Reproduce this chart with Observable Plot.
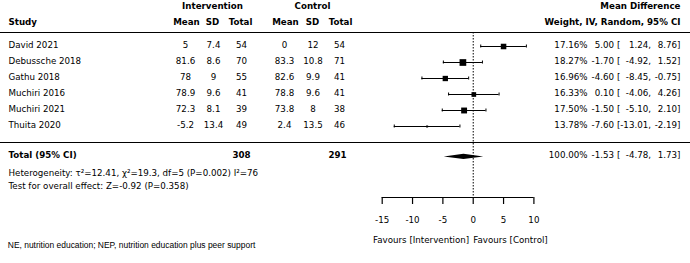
<!DOCTYPE html>
<html><head><meta charset="utf-8">
<script src="https://cdn.jsdelivr.net/npm/d3@7"></script>
<script src="https://cdn.jsdelivr.net/npm/@observablehq/plot@0.6"></script>
<style>body{margin:0;background:#fff}</style>
</head><body><div id="chart"></div>
<script>
// ---- data ----
const studies = ["David 2021","Debussche 2018","Gathu 2018","Muchiri 2016","Muchiri 2021","Thuita 2020"];
const intMean = [5, 81.6, 78, 78.9, 72.3, -5.2];
const intSD   = [7.4, 8.6, 9, 9.6, 8.1, 13.4];
const intN    = [54, 70, 55, 41, 39, 49];
const ctlMean = [0, 83.3, 82.6, 78.8, 73.8, 2.4];
const ctlSD   = [12, 10.8, 9.9, 9.6, 8, 13.5];
const ctlN    = [54, 71, 41, 41, 38, 46];
const weights = [17.16, 18.27, 16.96, 16.33, 17.50, 13.78];
const md      = [5.00, -1.70, -4.60, 0.10, -1.50, -7.60];
const ciLow   = [1.24, -4.92, -8.45, -4.06, -5.10, -13.01];
const ciHigh  = [8.76, 1.52, -0.75, 4.26, 2.10, -2.19];
const totalLabel = "Total (95% CI)";
const totalIntN = 308, totalCtlN = 291;
const totalWeight = 100.00, totalMd = -1.53, totalLow = -4.78, totalHigh = 1.73;
const heterogeneityText = "Heterogeneity: \u03C4\u00B2=12.41, \u03C7\u00B2=19.3, df=5 (P=0.002) I\u00B2=76";
const overallText = "Test for overall effect: Z=-0.92 (P=0.358)";
const xTicks = [-15, -10, -5, 0, 5, 10];
const favLeft = "Favours [Intervention]", favRight = "Favours [Control]";
const footnote = "NE, nutrition education; NEP, nutrition education plus peer support";
const headTop = [{t:"Intervention", x:212, a:"middle"}, {t:"Control", x:312, a:"middle"}, {t:"Mean Difference", x:680, a:"end"}];
const headSub = [{t:"Study", x:8, a:"start"}, {t:"Mean", x:186, a:"middle"}, {t:"SD", x:212, a:"middle"}, {t:"Total", x:240, a:"middle"},
                 {t:"Mean", x:285, a:"middle"}, {t:"SD", x:312, a:"middle"}, {t:"Total", x:340, a:"middle"},
                 {t:"Weight, IV, Random, 95% CI", x:680, a:"end"}];

// ---- layout (row units: row i of studies is at 46 + 16*i px) ----
const ROW0 = 46, ROWH = 16;
const HDR1 = -2.41, HDR2 = -1.43, TOP_LINE = -0.875, SEP_LINE = 6, TOTAL_ROW = 6.9;
const HET_ROW = 8.0, OVR_ROW = 8.85, FAV_ROW = 12.2, FOOT_ROW = 12.52, AXIS_ROW = (197 - ROW0) / ROWH;
const DIAM_H = 0.17;
const TDY = -1.5, FS = 8.7;

const rows = studies.map((s, i) => ({
  row: i, study: s, im: intMean[i], isd: intSD[i], inn: intN[i],
  cm: ctlMean[i], csd: ctlSD[i], cn: ctlN[i], w: weights[i], md: md[i], lo: ciLow[i], hi: ciHigh[i]
}));
const totalRow = {row: TOTAL_ROW, w: totalWeight, md: totalMd, lo: totalLow, hi: totalHigh};
const diamond = [
  {y: TOTAL_ROW - DIAM_H, x1: totalMd, x2: totalMd},
  {y: TOTAL_ROW, x1: totalLow, x2: totalHigh},
  {y: TOTAL_ROW + DIAM_H, x1: totalMd, x2: totalMd}
];

const col = (data, text, x, anchor, extra = {}) =>
  Plot.text(data, {text, y: "row", frameAnchor: "left", dx: x, dy: TDY, textAnchor: anchor, fontSize: FS, fill: "black", ...extra});

const ciCols = (data, extra = {}) => [
  col(data, d => d.w.toFixed(2) + "%", 587, "end", extra),
  col(data, d => d.md.toFixed(2), 613.5, "end", extra),
  col(data, () => "[", 616.5, "start", extra),
  col(data, d => d.lo.toFixed(2) + ",", 650.5, "end", extra),
  col(data, d => d.hi.toFixed(2) + "]", 680, "end", extra)
];
const bold = {fontWeight: "bold"};

const sq = Math.sqrt(Math.PI);
const chart = Plot.plot({
  width: 690, height: 263,
  marginLeft: 0, marginRight: 0, marginTop: 32, marginBottom: 66,
  style: {fontFamily: "DejaVu Sans", fontSize: FS + "px", color: "black", background: "white", overflow: "visible"},
  x: {domain: [xTicks[0], xTicks[xTicks.length - 1]], range: [381.7, 533.4]},
  y: {domain: [0, 1], range: [ROW0, ROW0 + ROWH], axis: null},
  r: {type: "linear", domain: [d3.min(weights), d3.max(weights)], range: [2 / sq, 6.7 / sq]},
  marks: [
    // header texts
    ...headTop.map(h => Plot.text([h], {text: "t", y: HDR1, frameAnchor: "left", dx: h.x, dy: TDY, textAnchor: h.a, fontSize: FS, fontWeight: "bold"})),
    ...headSub.map(h => Plot.text([h], {text: "t", y: HDR2, frameAnchor: "left", dx: h.x, dy: TDY, textAnchor: h.a, fontSize: FS, fontWeight: "bold"})),
    // separator lines
    Plot.ruleY([TOP_LINE, SEP_LINE], {stroke: "black", strokeWidth: 1.2}),
    // null-effect line
    Plot.ruleX([0], {stroke: "black", strokeWidth: 1, strokeDasharray: "1.5,1.5"}),
    // study table
    col(rows, "study", 8, "start"),
    col(rows, d => String(d.im), 185, "middle"),
    col(rows, d => String(d.isd), 213, "middle"),
    col(rows, d => String(d.inn), 241, "middle"),
    col(rows, d => String(d.cm), 284, "middle"),
    col(rows, d => String(d.csd), 312.5, "middle"),
    col(rows, d => String(d.cn), 339, "middle"),
    ...ciCols(rows),
    // total row
    col([totalRow], () => totalLabel, 8, "start", bold),
    col([totalRow], () => String(totalIntN), 241, "middle", bold),
    col([totalRow], () => String(totalCtlN), 337, "middle", bold),
    ...ciCols([totalRow]),
    Plot.text([heterogeneityText], {text: d => d, y: HET_ROW, frameAnchor: "left", dx: 8, dy: TDY, textAnchor: "start", fontSize: FS}),
    Plot.text([overallText], {text: d => d, y: OVR_ROW, frameAnchor: "left", dx: 8, dy: TDY, textAnchor: "start", fontSize: FS}),
    // forest marks
    Plot.ruleY(rows, {y: "row", x1: "lo", x2: "hi", stroke: "black", strokeWidth: 1}),
    Plot.ruleX(rows, {x: "lo", y1: "row", y2: "row", insetTop: -1.5, insetBottom: -1.5, stroke: "black", strokeWidth: 1}),
    Plot.ruleX(rows, {x: "hi", y1: "row", y2: "row", insetTop: -1.5, insetBottom: -1.5, stroke: "black", strokeWidth: 1}),
    Plot.dot(rows, {x: "md", y: "row", r: "w", symbol: "square", fill: "black", stroke: "none"}),
    Plot.areaX(diamond, {y: "y", x1: "x1", x2: "x2", fill: "black", curve: "linear"}),
    // axis
    Plot.ruleY([AXIS_ROW], {x1: xTicks[0], x2: xTicks[xTicks.length - 1], stroke: "black", strokeWidth: 1.2}),
    Plot.axisX({ticks: xTicks, tickSize: 7, tickPadding: 12, tickFormat: d => String(d), fontSize: FS, label: null, strokeWidth: 1.2}),
    Plot.text([favLeft], {text: d => d, x: 0, y: FAV_ROW, dx: -4, dy: TDY, textAnchor: "end", fontSize: FS}),
    Plot.text([favRight], {text: d => d, x: 0, y: FAV_ROW, dx: 0, dy: TDY, textAnchor: "start", fontSize: FS}),
    // footnote
    Plot.text([footnote], {text: d => d, y: FOOT_ROW, frameAnchor: "left", dx: 7.3, dy: TDY, textAnchor: "start",
      fontSize: 8.45, fontFamily: "Liberation Sans"})
  ]
});
document.getElementById("chart").appendChild(chart);
</script>
</body></html>
